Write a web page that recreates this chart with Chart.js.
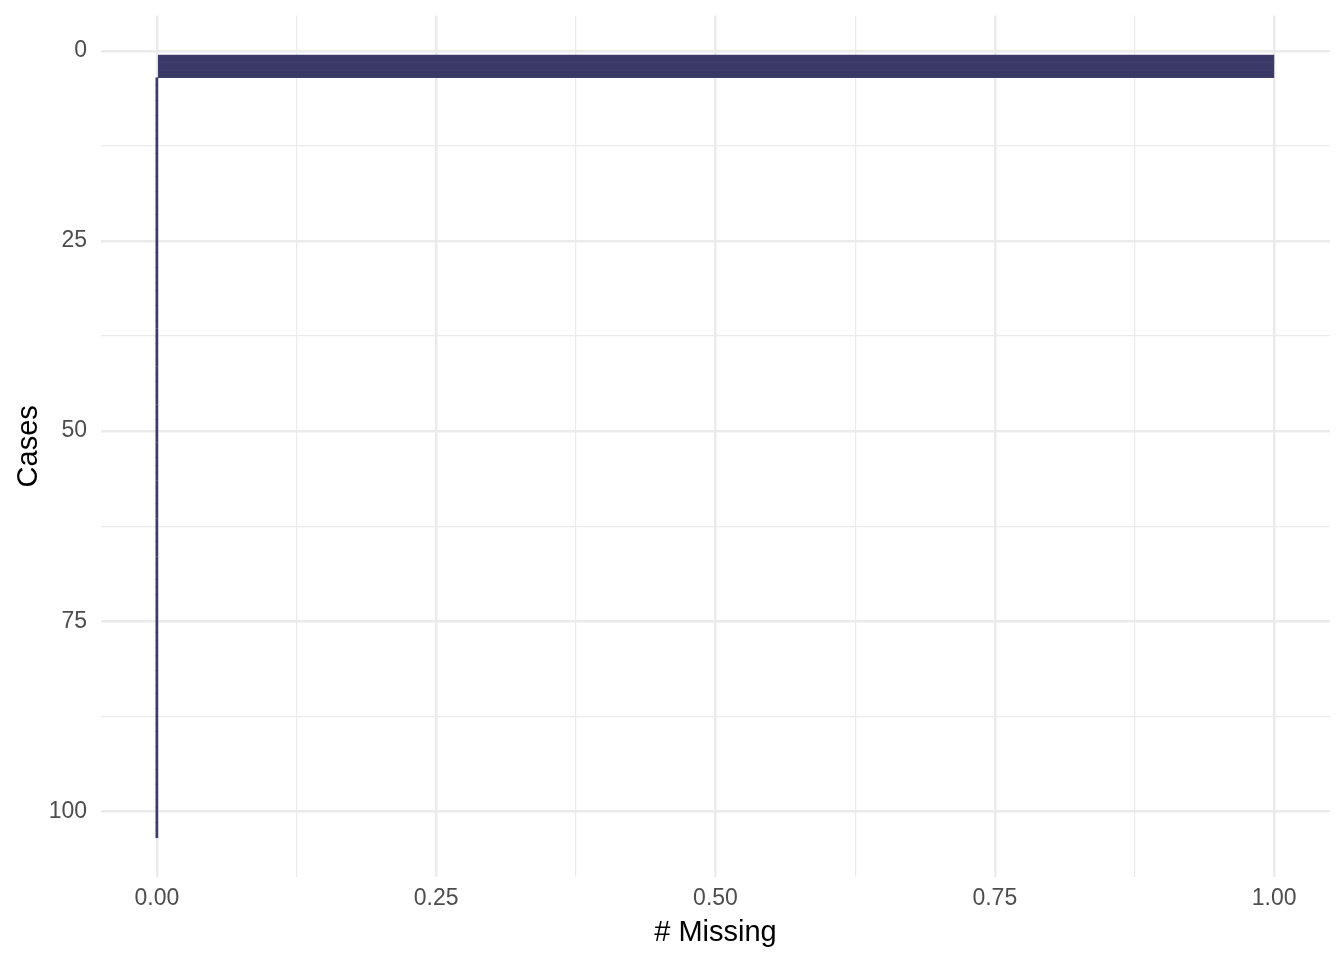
<!DOCTYPE html>
<html>
<head>
<meta charset="utf-8">
<script src="https://cdn.jsdelivr.net/npm/chart.js@4"></script>
<style>
html,body{margin:0;padding:0;background:#fff;}
#wrap{position:absolute;left:0;top:0;width:1344px;height:960px;}
</style>
</head>
<body>
<div id="wrap"><canvas id="c" width="1344" height="960"></canvas></div>
<script>
const cases = [1,2,3,4,5,6,7,8,9,10,11,12,13,14,15,16,17,18,19,20,21,22,23,24,25,26,27,28,29,30,31,32,33,34,35,36,37,38,39,40,41,42,43,44,45,46,47,48,49,50,51,52,53,54,55,56,57,58,59,60,61,62,63,64,65,66,67,68,69,70,71,72,73,74,75,76,77,78,79,80,81,82,83,84,85,86,87,88,89,90,91,92,93,94,95,96,97,98,99,100,101,102,103];
const nMiss = [1,1,1,0,0,0,0,0,0,0,0,0,0,0,0,0,0,0,0,0,0,0,0,0,0,0,0,0,0,0,0,0,0,0,0,0,0,0,0,0,0,0,0,0,0,0,0,0,0,0,0,0,0,0,0,0,0,0,0,0,0,0,0,0,0,0,0,0,0,0,0,0,0,0,0,0,0,0,0,0,0,0,0,0,0,0,0,0,0,0,0,0,0,0,0,0,0,0,0,0,0,0,0];
const xTicks = [0, 0.125, 0.25, 0.375, 0.5, 0.625, 0.75, 0.875, 1];
const xMajor = [0, 0.25, 0.5, 0.75, 1];
const yTicks = [0, 12.5, 25, 37.5, 50, 62.5, 75, 87.5, 100];
const yMajor = [0, 25, 50, 75, 100];

const FONT = "'Liberation Sans', Arial, sans-serif";
const isMajor = (v, arr) => arr.some(m => Math.abs(m - v) < 1e-9);
const gridW = arr => ctx => (ctx.tick && isMajor(ctx.tick.value, arr)) ? 2.5 : 1.2;

new Chart(document.getElementById('c'), {
  type: 'bar',
  data: {
    datasets: [{
      data: cases.map((c, i) => ({ x: nMiss[i], y: c })),
      backgroundColor: '#3a3865',
      borderColor: '#403e6e',
      borderWidth: 1,
      borderSkipped: false,
      minBarLength: 2.5,
      barPercentage: 1,
      categoryPercentage: 1
    }]
  },
  options: {
    indexAxis: 'y',
    responsive: false,
    animation: false,
    layout: { padding: { top: 15.6, right: 14, bottom: 0, left: 0 } },
    plugins: { legend: { display: false }, tooltip: { enabled: false } },
    scales: {
      x: {
        type: 'linear',
        min: -0.05, max: 1.05,
        afterBuildTicks: s => { s.ticks = xTicks.map(v => ({ value: v })); },
        afterFit: s => { s.height = 83; s.paddingLeft = 0; s.paddingRight = 0; },
        grid: {
          color: '#ebebeb',
          lineWidth: gridW(xMajor),
          drawTicks: false
        },
        border: { display: false },
        ticks: {
          autoSkip: false, maxRotation: 0,
          padding: 8,
          color: '#4d4d4d',
          font: { family: FONT, size: 23 },
          callback: v => isMajor(v, xMajor) ? v.toFixed(2) : ''
        },
        title: {
          display: true, text: '# Missing', color: '#000',
          font: { family: FONT, size: 29 },
          padding: { top: 0, bottom: 10 }
        }
      },
      y: {
        type: 'linear',
        reverse: true,
        offset: false,
        min: -4.65, max: 108.65,
        afterBuildTicks: s => { s.ticks = yTicks.map(v => ({ value: v })); },
        afterFit: s => { s.width = 101; s.paddingTop = 0; s.paddingBottom = 0; },
        grid: {
          color: '#ebebeb',
          offset: false,
          lineWidth: gridW(yMajor),
          drawTicks: false
        },
        border: { display: false },
        ticks: {
          autoSkip: false,
          padding: 14,
          color: '#4d4d4d',
          font: { family: FONT, size: 23 },
          callback: v => isMajor(v, yMajor) ? String(v) : ''
        },
        title: {
          display: true, text: 'Cases', color: '#000',
          font: { family: FONT, size: 29 },
          padding: { top: 12, bottom: 0 }
        }
      }
    }
  }
});
</script>
</body>
</html>
